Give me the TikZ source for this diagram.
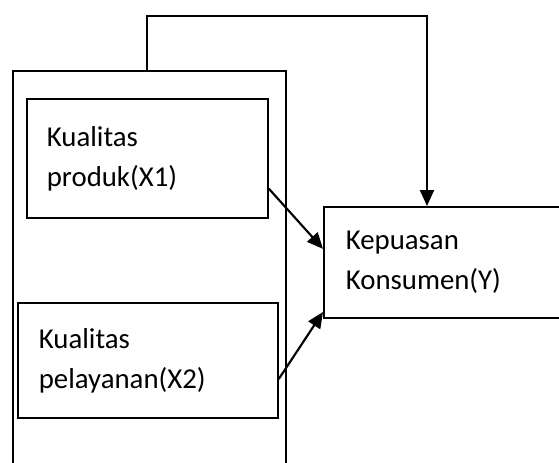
\documentclass[tikz,border=0pt]{standalone}
\usepackage{fontspec}
\setmainfont{Carlito}
\usetikzlibrary{arrows.meta,calc}

\begin{document}
\begin{tikzpicture}[x=0.75pt,y=-0.75pt,
  box/.style={draw=black,line width=1.3pt,anchor=north west,align=left,
    font=\fontsize{21.6}{30}\selectfont,inner ysep=0pt},
  arrow/.style={-{Triangle[length=12pt,width=10.5pt]},line width=1.6pt,draw=black}]
\useasboundingbox (0,0) rectangle (559,462);
\clip (0,0) rectangle (559,462);
% kerangka variabel X
\draw[line width=1.3pt] (13,470) -- (13,71) -- (286,71) -- (286,470);
\coordinate (top) at (147,71);
\node[box,inner xsep=15pt,text width=150.75pt,minimum height=89.25pt] (x1) at (26,98) {Kualitas\\produk(X1)\\[-8pt]};
\node[box,inner xsep=15.75pt,text width=163.5pt,minimum height=86.25pt] (x2) at (17,302) {Kualitas\\pelayanan(X2)\\[-8pt]};
\node[box,inner xsep=16.5pt,text width=154.5pt,minimum height=83.25pt] (y) at (323,206) {Kepuasan\\Konsumen(Y)};
\draw[arrow] ($(x1.south east)!0.25!(x1.north east)$) -- ($(y.north west)!0.38!(y.south west)$);
\draw[arrow] ($(x2.north east)!0.66!(x2.south east)$) -- ($(y.north west)!0.94!(y.south west)$);
\draw[arrow] (top) -- ++(0,-55) -| ($(y.north west)+(104,0)$);
\end{tikzpicture}
\end{document}
